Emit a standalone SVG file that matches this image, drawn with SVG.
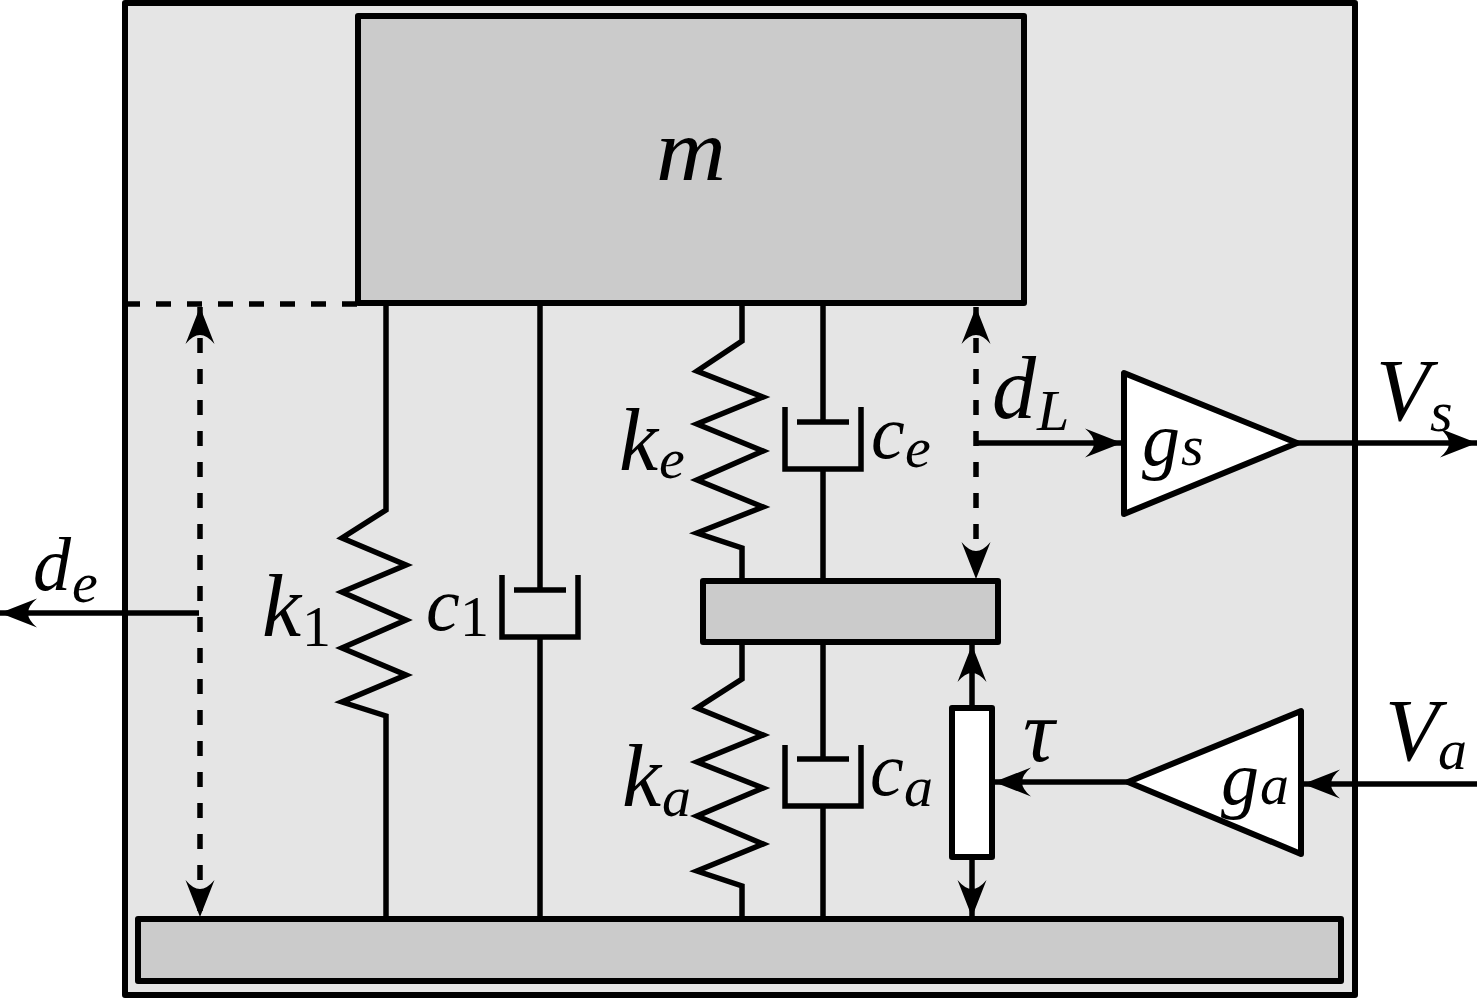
<svg xmlns="http://www.w3.org/2000/svg" width="1477" height="998" viewBox="0 0 1477 998">
<style>
.s{fill:none;stroke:#000;stroke-width:5.5;stroke-linejoin:miter}
.b{stroke:#000;stroke-width:6;stroke-linejoin:round}
.d{fill:none;stroke:#000;stroke-width:5.5;stroke-dasharray:15 16}
.t{font-family:"Liberation Serif",serif;font-style:italic;font-size:88px;fill:#000}
.c{font-size:76px}
.u{font-size:58px}
.n{font-style:normal}
</style>
<defs>
<marker id="a" markerUnits="userSpaceOnUse" markerWidth="40" markerHeight="32" refX="38" refY="16" orient="auto-start-reverse" viewBox="0 0 40 32">
<path d="M38 16 L1 1.500 Q10 9 10 16 Q10 23 1 30.500 Z" fill="#000"/>
</marker>
</defs>
<rect width="1477" height="998" fill="#fff"/>
<g id="frame"><rect class="b" x="125" y="3" width="1230" height="992" fill="#e5e5e5"/></g>
<g id="connectors">
<path class="d" d="M125 304H358"/>
<path class="s" d="M386 303V510L342 538L406 565L342 592L406 620L342 648L406 675L342 702L386 716V919"/>
<path class="s" d="M540 303V590M514 590H566M502 575V637H578V575M540 637V919"/>
<path class="s" d="M742 303V341L697 371L763 397L697 424L763 451L697 480L763 507L697 533L742 548V581"/>
<path class="s" d="M823 303V422M797 422H849M785 407V469H861V407M823 469V581"/>
<path class="s" d="M742 642V679L697 708L763 735L697 762L763 788L697 816L763 844L697 871L742 886V919"/>
<path class="s" d="M823 642V759M797 759H849M785 745V806H861V745M823 806V919"/>
<path class="d" d="M200 307V917" marker-start="url(#a)" marker-end="url(#a)"/>
<path class="d" d="M976 307V579" marker-start="url(#a)" marker-end="url(#a)"/>
<path class="s" d="M199 613H0" marker-end="url(#a)"/>
<path class="s" d="M978 443H1122" marker-end="url(#a)"/>
<path class="s" d="M1297 443H1477" marker-end="url(#a)"/>
<path class="s" d="M1477 784H1303" marker-end="url(#a)"/>
<path class="s" d="M1128 782H994" marker-end="url(#a)"/>
<path class="s" d="M972 708V645" marker-end="url(#a)"/>
<path class="s" d="M972 857V917" marker-end="url(#a)"/>
</g>
<g id="mass"><rect class="b" x="358" y="16" width="666" height="287" fill="#cbcbcb"/><text class="t" x="656" y="180" textLength="70" lengthAdjust="spacingAndGlyphs">m</text></g>
<g id="base"><rect class="b" x="138" y="919" width="1203" height="62" fill="#cbcbcb"/></g>
<g id="plate"><rect class="b" x="703" y="581" width="295" height="61" fill="#cbcbcb"/></g>
<g id="actuator"><rect class="b" x="952" y="708" width="40" height="149" fill="#fff"/></g>
<g id="gs"><path class="b" d="M1124 373V514L1297 443Z" fill="#fff"/><text class="t c" x="1142" y="465">g</text><text class="t u" x="1181" y="465">s</text></g>
<g id="ga"><path class="b" d="M1301 711V854L1128 782Z" fill="#fff"/><text class="t c" x="1221" y="804">g</text><text class="t u" x="1260" y="804">a</text></g>
<g id="labels">
<text class="t c" x="33" y="590">d</text><text class="t u" x="72" y="602">e</text>
<text class="t" x="262" y="636">k</text><text class="t u n" x="302" y="646">1</text>
<text class="t c" x="426" y="630">c</text><text class="t u n" x="460" y="636">1</text>
<text class="t" x="619" y="470">k</text><text class="t u" x="659" y="478">e</text>
<text class="t c" x="871" y="458">c</text><text class="t u" x="905" y="467">e</text>
<text class="t" x="622" y="806">k</text><text class="t u" x="662" y="816">a</text>
<text class="t c" x="870" y="795">c</text><text class="t u" x="904" y="806">a</text>
<text class="t" x="992" y="418">d</text><text class="t u" x="1037" y="430">L</text>
<text class="t" x="1023" y="761">τ</text>
<text class="t" x="1376" y="420">V</text><text class="t u" x="1430" y="431">s</text>
<text class="t" x="1385" y="760">V</text><text class="t u" x="1438" y="769">a</text>
</g>
</svg>
